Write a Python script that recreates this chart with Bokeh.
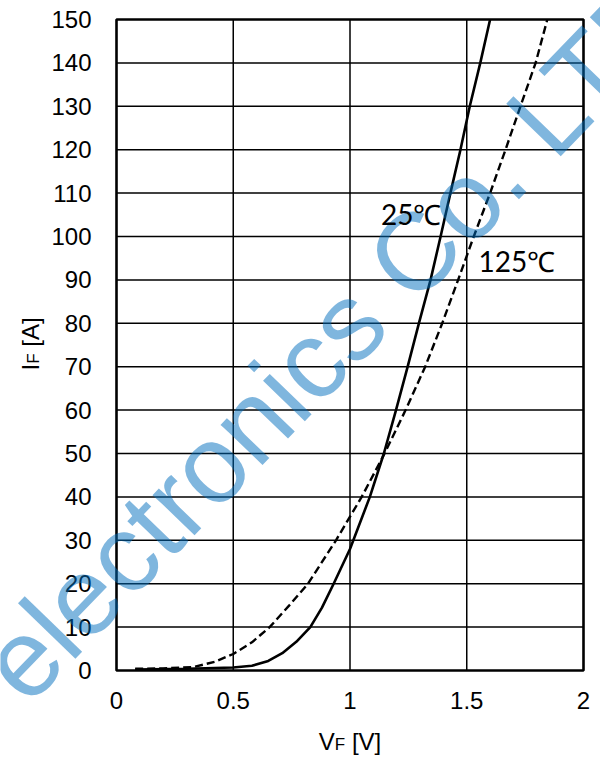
from math import pi, cos, sin, radians
from bokeh.plotting import figure
from bokeh.models import Range1d
from bokeh.core.properties import value
from bokeh.embed import file_html
from bokeh.resources import INLINE

# ---- data ----
vf_25 = [0.08, 0.30, 0.50, 0.58, 0.65, 0.71, 0.77, 0.83, 0.88, 0.93, 1.00, 1.085,
         1.145, 1.197, 1.247, 1.295, 1.345, 1.388, 1.43, 1.473, 1.513, 1.558, 1.60]
if_25 = [0.2, 0.4, 0.7, 1.1, 2.2, 4.0, 6.6, 10.0, 14.5, 20.0, 28.0, 40.0,
         50, 60, 70, 80, 90, 100, 110, 120, 130, 140, 150]

vf_125 = [0.08, 0.20, 0.33, 0.42, 0.50, 0.58, 0.656, 0.74, 0.82, 0.94, 1.05,
          1.148, 1.238, 1.322, 1.395, 1.463, 1.53, 1.60, 1.666, 1.73, 1.795, 1.845]
if_125 = [0.4, 0.5, 0.8, 2.0, 3.8, 6.5, 10, 15, 20, 30, 40,
          50, 60, 70, 80, 90, 100, 110, 120, 130, 140, 150]

x_ticks = [0, 0.5, 1, 1.5, 2]
x_tick_labels = ["0", "0.5", "1", "1.5", "2"]
y_ticks = list(range(0, 151, 10))
y_tick_labels = [str(v) for v in y_ticks]

X_MIN, X_MAX = 0, 2
Y_MIN, Y_MAX = 0, 150

# ---- layout (pixels) ----
W, H = 600, 756
LEFT, RIGHT, TOP, BOTTOM = 116, 583, 19, 670   # plot box edges on the canvas
SX = (RIGHT - LEFT) / (X_MAX - X_MIN)          # px per volt
SY = (BOTTOM - TOP) / (Y_MAX - Y_MIN)          # px per ampere

p = figure(frame_width=W, frame_height=H, min_border=0,
           x_range=Range1d(X_MIN - LEFT / SX, X_MAX + (W - RIGHT) / SX),
           y_range=Range1d(Y_MIN - (H - BOTTOM) / SY, Y_MAX + TOP / SY),
           x_axis_location=None, y_axis_location=None,
           output_backend="svg", toolbar_location=None,
           background_fill_color="white", border_fill_color="white")
p.outline_line_color = None
p.grid.visible = False

# grid lines
gx = x_ticks[1:-1]
gy = y_ticks[1:-1]
p.segment(x0=gx, y0=[Y_MIN] * len(gx), x1=gx, y1=[Y_MAX] * len(gx),
          line_color="black", line_width=1.5)
p.segment(x0=[X_MIN] * len(gy), y0=gy, x1=[X_MAX] * len(gy), y1=gy,
          line_color="black", line_width=1.5)

# curves
p.line(vf_25, if_25, line_color="black", line_width=2.6)
p.line(vf_125, if_125, line_color="black", line_width=2.4, line_dash="8 4")

# plot box
p.quad(left=X_MIN, right=X_MAX, bottom=Y_MIN, top=Y_MAX,
       fill_color=None, line_color="black", line_width=2.6)

# tick labels
p.text(x=[X_MIN - 25 / SX] * len(y_ticks), y=y_ticks, text=y_tick_labels,
       text_font=value("Liberation Sans"), text_font_size="24px",
       text_align="right", text_baseline="middle", text_color="black")
p.text(x=x_ticks, y=[Y_MIN - 21 / SY] * len(x_ticks), text=x_tick_labels,
       text_font=value("Liberation Sans"), text_font_size="24px",
       text_align="center", text_baseline="top", text_color="black")

def dx(px):
    return X_MIN + (px - LEFT) / SX

def dy(py):
    return Y_MIN + (BOTTOM - py) / SY

def lab(px, py, text, size_px, font="Liberation Sans", angle=0.0,
        color="black", alpha=1.0, cap=0.716):
    # (px, py) is the baseline start on the canvas; anchor on the cap middle
    off = cap * size_px / 2
    ax = px - off * sin(angle)
    ay = py - off * cos(angle)
    p.text(x=[dx(ax)], y=[dy(ay)], text=[text], text_font=value(font),
           text_font_size=f"{size_px}px", angle=angle, text_color=color,
           text_alpha=alpha, text_baseline="middle", text_align="left")

# watermark
lab(28, 708, "electronics Co. LTD", 110, angle=radians(46),
    color=(0, 110, 190), alpha=0.5)

# curve labels
lab(380.5, 224, "25℃", 28, font="Lato", cap=0.72)
lab(478, 270.5, "125℃", 28, font="Lato", cap=0.72)

# x axis label  V_F [V]
lab(318.3, 750, "V", 24)
lab(334.3, 750, "F", 17)
lab(351.4, 750, "[V]", 24)

# y axis label  I_F [A]  (rotated)
lab(39, 370, "I", 24, angle=pi / 2)
lab(39, 363.3, "F", 17, angle=pi / 2)
lab(39, 346.2, "[A]", 24, angle=pi / 2)

open("out.html", "w").write(file_html(p, INLINE))
